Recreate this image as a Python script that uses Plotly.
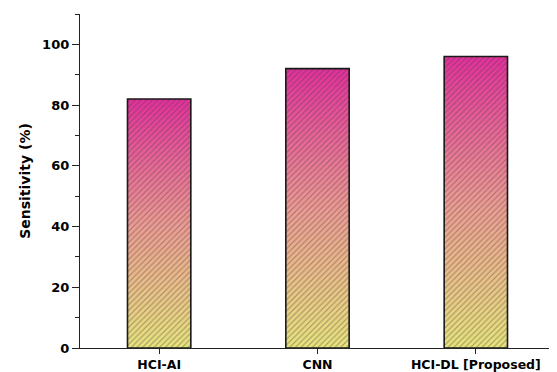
import plotly.graph_objects as go

categories = ["HCI-AI", "CNN", "HCI-DL [Proposed]"]
sensitivity = [82, 92, 96]
y_ticks = [0, 20, 40, 60, 80, 100]

# gradient stops (bottom -> middle -> top)
stops = [(0.0, (230, 228, 125)), (0.5, (236, 155, 148)), (1.0, (226, 48, 156))]

def grad(t):
    for (t0, c0), (t1, c1) in zip(stops[:-1], stops[1:]):
        if t <= t1:
            f = (t - t0) / (t1 - t0)
            return "rgb(%d,%d,%d)" % tuple(round(a + (b - a) * f) for a, b in zip(c0, c1))
    return "rgb(%d,%d,%d)" % stops[-1][1]

N = 60
BW = 0.4
fig = go.Figure()
# gradient: each slice runs from its base to the bar top, later slices cover earlier ones
for i in range(N):
    fig.add_trace(go.Bar(
        x=categories,
        y=[v * (N - i) / N for v in sensitivity],
        base=[v * i / N for v in sensitivity],
        width=BW,
        marker=dict(
            color=grad((i + 0.5) / N), line=dict(width=0),
            pattern=dict(shape="/", size=4, solidity=0.25, fillmode="overlay",
                         fgcolor="#4a3838", fgopacity=0.45),
        ),
        showlegend=False, hoverinfo="skip",
    ))

# outline
fig.add_trace(go.Bar(
    x=categories, y=sensitivity, width=BW,
    marker=dict(color="rgba(0,0,0,0)", line=dict(color="#1a1a1a", width=1.6)),
    showlegend=False,
))

tickfont = "DejaVu Sans, sans-serif"
fig.update_layout(
    width=549, height=364,
    margin=dict(l=72, r=2, t=6, b=24, autoexpand=False),
    barmode="overlay",
    template="none",
    plot_bgcolor="white", paper_bgcolor="white",
    font=dict(family=tickfont, color="black"),
    xaxis=dict(
        type="category", range=[-0.5, 2.5], automargin=False,
        showline=True, linecolor="#222", linewidth=1.3,
        ticks="outside", ticklen=5, tickwidth=1.2, tickcolor="#222",
        tickfont=dict(size=12.5, family=tickfont, weight="bold"),
        showgrid=False, zeroline=False,
    ),
    yaxis=dict(
        range=[0, 110], tickvals=y_ticks, automargin=False,
        showline=True, linecolor="#222", linewidth=1.3,
        ticks="outside", ticklen=7, tickwidth=1.2, tickcolor="#222",
        minor=dict(dtick=10, ticks="outside", ticklen=4, tickcolor="#222", showgrid=False),
        tickfont=dict(size=13, family=tickfont, weight="bold"),
        title=dict(text="Sensitivity (%)", font=dict(size=14, family=tickfont, weight="bold"), standoff=8),
        showgrid=False, zeroline=False,
    ),
)

fig.write_html("out.html")
